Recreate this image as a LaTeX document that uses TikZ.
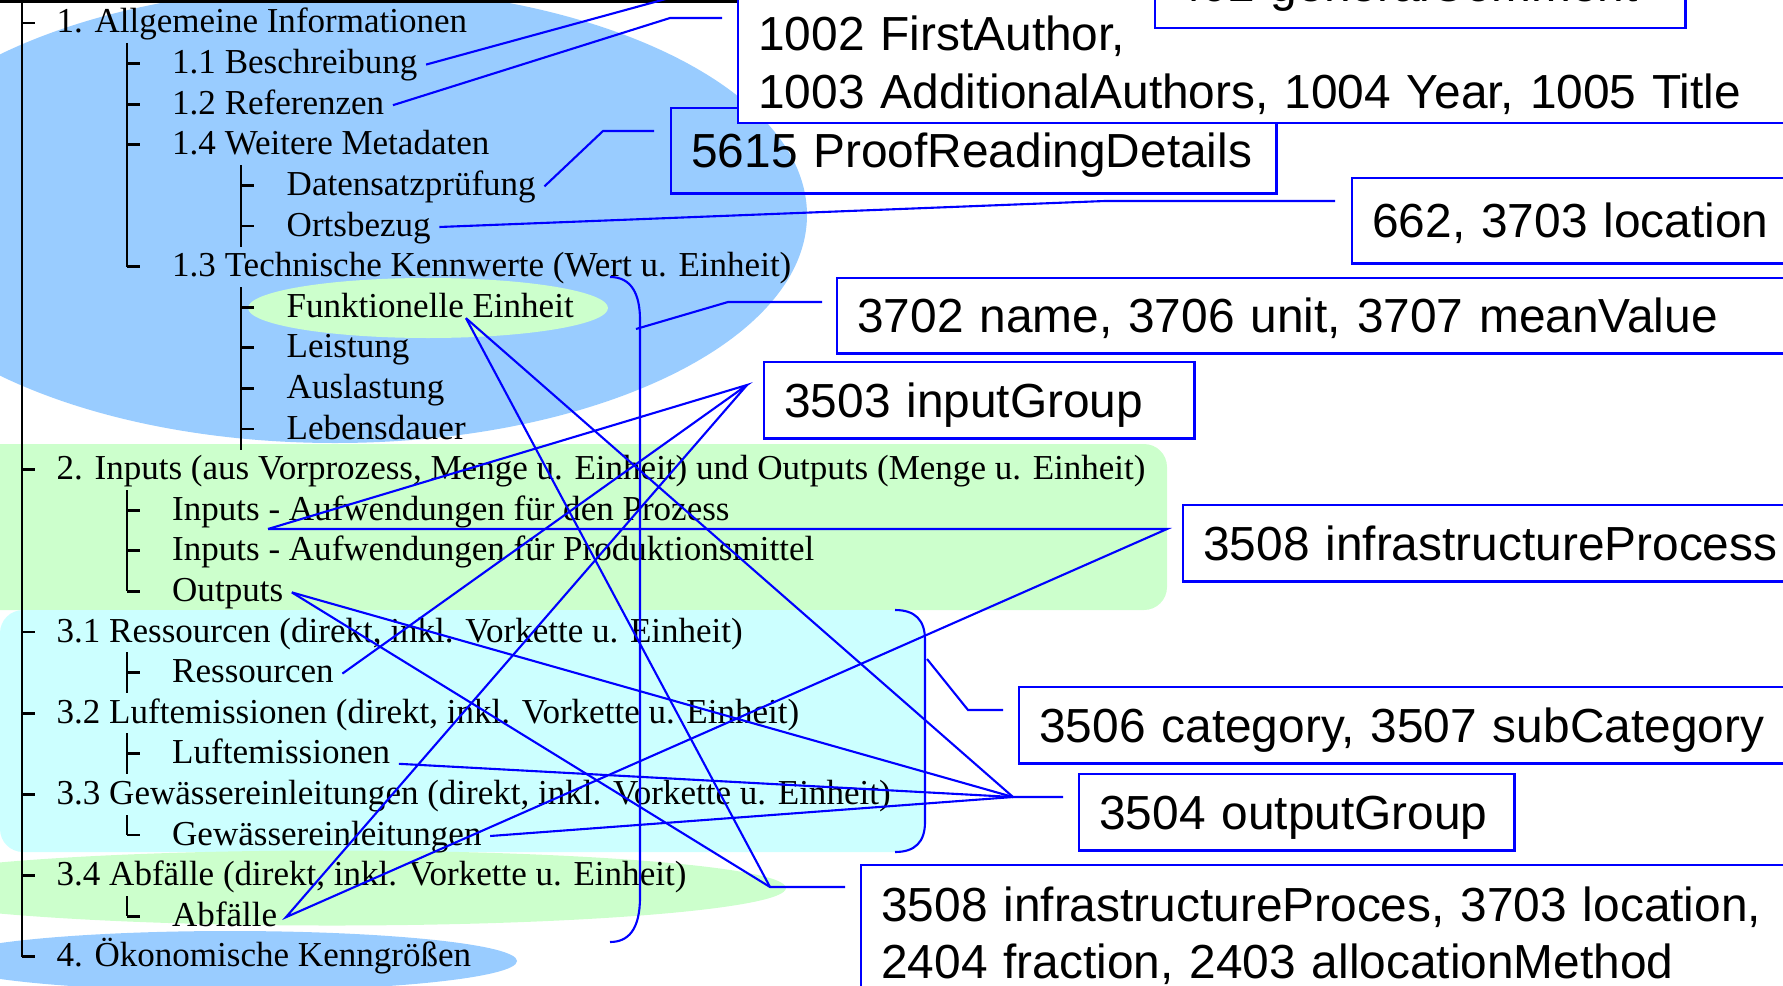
\documentclass[tikz,border=0pt]{standalone}
\usepackage{fontspec}
\setmainfont{Liberation Serif}
\setsansfont{Liberation Sans}
\usetikzlibrary{calc}

\definecolor{sectblue}{HTML}{99CCFF}
\definecolor{sectgreen}{HTML}{CCFFCC}
\definecolor{sectcyan}{HTML}{CCFFFF}

\tikzset{
  item/.style={anchor=base west, inner xsep=0.08cm, inner ysep=0pt,
    font=\fontsize{9.96}{12}\selectfont, text height=0.25cm, text depth=0.07cm},
  tree/.style={line width=0.8pt},
  link/.style={blue, line width=0.6pt},
  field/.style={draw=blue, line width=0.7pt, fill=white, anchor=north west,
    inner xsep=0.2cm, inner ysep=0pt, align=left,
    font=\sffamily\fontsize{13.6}{16.3}\selectfont,
    text height=0.45cm, text depth=0.11cm},
}

\begin{document}
\begin{tikzpicture}[x=0.01cm, y=-0.01cm]
\useasboundingbox (0,0) rectangle (1783,985);
\clip (0,0) rectangle (1783,985);

% shaded sections
\fill[sectblue] (335,215) ellipse [x radius=472, y radius=228];
\fill[sectgreen, rounded corners=0.23cm] (-30,444) rectangle (1167,610);
\fill[sectcyan, rounded corners=0.23cm] (0,610) rectangle (925,852);
\fill[sectgreen] (332,888) ellipse [x radius=454, y radius=37.5];
\fill[sectblue] (230,961) ellipse [x radius=287, y radius=30];
\fill[sectgreen] (428,308) ellipse [x radius=180, y radius=30];

% tree rules
\draw[tree] (0,1.5) -- (737,1.5);
\draw[tree] (22,0) -- (22,956.8);
\draw[tree] (127,43) -- (127,266.6);
\draw[tree] (127,490) -- (127,591.4);
\draw[tree] (127,652) -- (127,693);
\draw[tree] (127,733) -- (127,774);
\draw[tree] (127,815) -- (127,835);
\draw[tree] (127,896) -- (127,916.2);
\draw[tree] (241,165) -- (241,247);
\draw[tree] (241,287) -- (241,450);
\foreach \x/\r in {22/1,22/12,22/16,22/18,22/20,22/22,22/24,
    127/2,127/3,127/4,127/7,127/13,127/14,127/15,127/17,127/19,127/21,127/23,
    241/5,241/6,241/8,241/9,241/10,241/11}
  \draw[tree] (\x,{40.6*\r-17.6}) -- ++(13,0);

% entries
\node[item] (s1) at (48,33) {1. Allgemeine Informationen};
\node[item] (s11) at (163.5,73.6) {1.1 Beschreibung};
\node[item] (s12) at (163.5,114.2) {1.2 Referenzen};
\node[item] (s14) at (163.5,154.8) {1.4 Weitere Metadaten};
\node[item] (s14a) at (278,195.4) {Datensatzprüfung};
\node[item] (s14b) at (278,236) {Ortsbezug};
\node[item] (s13) at (163.5,276.6) {1.3 Technische Kennwerte (Wert u. Einheit)};
\node[item] (s13a) at (278,317.2) {Funktionelle Einheit};
\node[item] (s13b) at (278,357.8) {Leistung};
\node[item] (s13c) at (278,398.4) {Auslastung};
\node[item] (s13d) at (278,439) {Lebensdauer};
\node[item] (s2) at (48,479.6) {2. Inputs (aus Vorprozess, Menge u. Einheit) und Outputs (Menge u. Einheit)};
\node[item] (s2a) at (163.5,520.2) {Inputs - Aufwendungen für den Prozess};
\node[item] (s2b) at (163.5,560.8) {Inputs - Aufwendungen für Produktionsmittel};
\node[item] (s2c) at (163.5,601.4) {Outputs};
\node[item] (s31) at (48,642) {3.1 Ressourcen (direkt, inkl. Vorkette u. Einheit)};
\node[item] (s31a) at (163.5,682.6) {Ressourcen};
\node[item] (s32) at (48,723.2) {3.2 Luftemissionen (direkt, inkl. Vorkette u. Einheit)};
\node[item] (s32a) at (163.5,763.8) {Luftemissionen};
\node[item] (s33) at (48,804.4) {3.3 Gewässereinleitungen (direkt, inkl. Vorkette u. Einheit)};
\node[item] (s33a) at (163.5,845) {Gewässereinleitungen};
\node[item] (s34) at (48,885.6) {3.4 Abfälle (direkt, inkl. Vorkette u. Einheit)};
\node[item] (s34a) at (163.5,926.2) {Abfälle};
\node[item] (s4) at (48,966.8) {4. Ökonomische Kenngrößen};

% pins, hubs and loose ends
\coordinate (fe-pin) at ($(s13a.base west)+(188,1)$);
\coordinate (ip-pin) at ($(s2a.base west)+(104.5,8.8)$);
\coordinate (comment-end) at (684,-6);
\coordinate (authors-end) at (722,18);
\coordinate (proof-end) at (654,131);
\coordinate (loc-end) at (1335,201);
\coordinate (brace-top) at (610,277);
\coordinate (brace-pin) at (636,329);
\coordinate (brace-bot) at (610,942);
\coordinate (tech-end) at (822,302);
\coordinate (in-hub) at (747,385);
\coordinate (infra-hub) at (1167,529);
\coordinate (out-hub) at (1013,797);
\coordinate (out-end) at (1063,797);
\coordinate (alloc-hub) at (770,887);
\coordinate (alloc-end) at (845,887);
\coordinate (cat-top) at (895,610);
\coordinate (cat-bot) at (895,852);
\coordinate (cat-pin) at (927,659);
\coordinate (cat-end) at (1003,710);

% connectors
\draw[link] (s11.east) -- (comment-end);
\draw[link] (s12.east) -- (670,18) -- (authors-end);
\draw[link] (s14a.east) -- (603,131) -- (proof-end);
\draw[link] (s14b.east) -- (1105,201) -- (loc-end);
\draw[link] (brace-top) .. controls (632,277) and (640,295) .. (640,320)
  -- (640,897) .. controls (640,930) and (628,942) .. (brace-bot);
\draw[link] (brace-pin) -- (728,302) -- (tech-end);
\draw[link] (ip-pin) -- (in-hub) -- (s31a.east);
\draw[link] (in-hub) -- (s34a.east) -- (infra-hub) -- (ip-pin);
\draw[link] (s2c.east) -- (out-hub) -- (out-end);
\draw[link] (s32a.base east) -- (out-hub);
\draw[link] (s33a.east) -- (out-hub);
\draw[link] (fe-pin) -- (out-hub);
\draw[link] (s2c.east) -- (alloc-hub) -- (alloc-end);
\draw[link] (fe-pin) -- (alloc-hub);
\draw[link] (cat-top) .. controls (915,610) and (925,620) .. (925,640)
  -- (925,822) .. controls (925,842) and (915,852) .. (cat-bot);
\draw[link] (cat-pin) -- (968,710) -- (cat-end);

% data fields
\node[field, fill=none, minimum height=0.85cm, text width=5.65cm] (proofreading) at (670,107) {5615 ProofReadingDetails};
\node[field, anchor=south west, minimum height=1.29cm, text width=10.6cm, text depth=0.6cm] (authors) at (737,124) {1002 FirstAuthor,\\1003 AdditionalAuthors, 1004 Year, 1005 Title};
\node[field, anchor=south west, minimum height=0.86cm, text width=4.9cm] (comment) at (1154,29) {402 generalComment};
\node[field, minimum height=0.85cm, text width=4.6cm] (location) at (1351,177) {662, 3703 location};
\node[field, minimum height=0.75cm, text width=9.6cm] (techvalues) at (836,277) {3702 name, 3706 unit, 3707 meanValue};
\node[field, minimum height=0.76cm, text width=3.9cm] (inputgroup) at (763,361) {3503 inputGroup};
\node[field, minimum height=0.76cm, text width=6.2cm] (infraproc) at (1182,504) {3508 infrastructureProcess};
\node[field, minimum height=0.76cm, text width=8cm] (category) at (1018,686) {3506 category, 3507 subCategory};
\node[field, minimum height=0.76cm, text width=3.95cm] (outputgroup) at (1078,773) {3504 outputGroup};
\node[field, minimum height=1.36cm, text width=9.4cm, text depth=0.69cm] (allocation) at (860,864) {3508 infrastructureProces, 3703 location,\\2404 fraction, 2403 allocationMethod};
\end{tikzpicture}
\end{document}
